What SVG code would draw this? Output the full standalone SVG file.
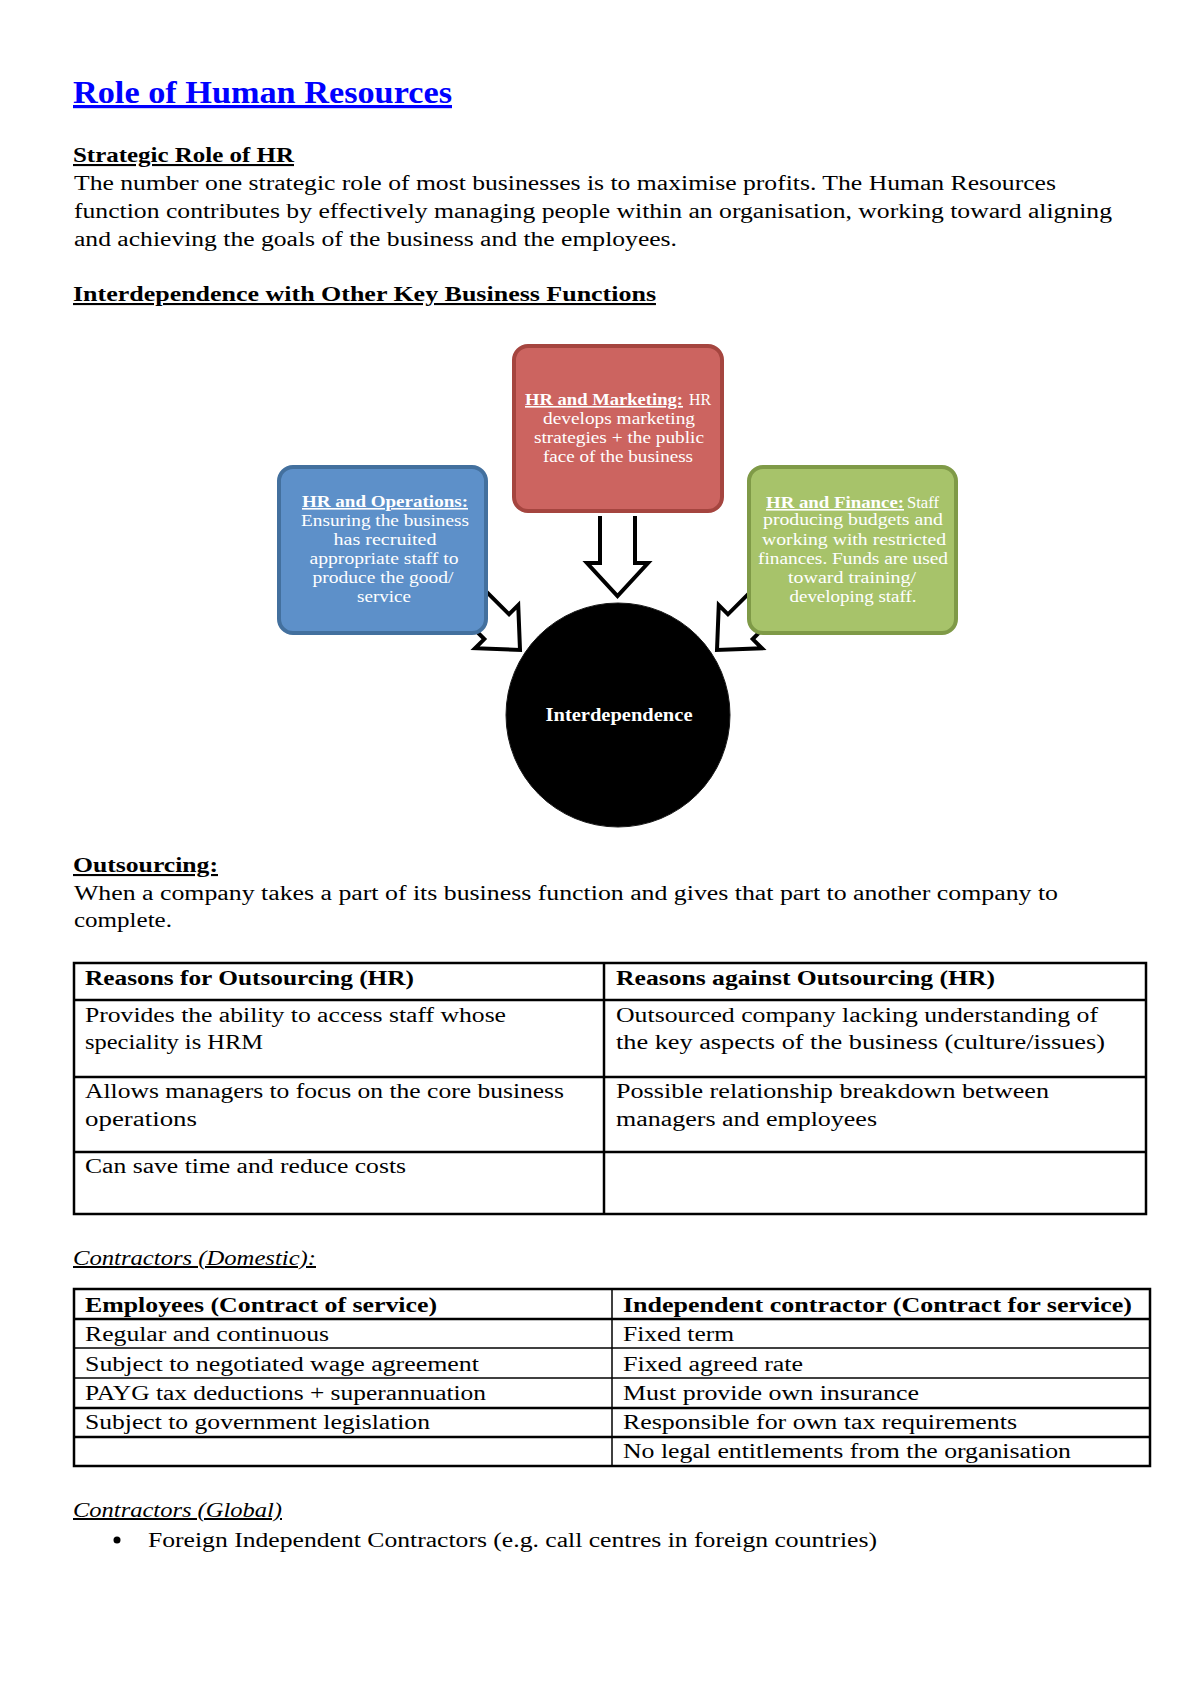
<svg xmlns="http://www.w3.org/2000/svg" width="1200" height="1698" viewBox="0 0 1200 1698">
<style>
  text { font-family: "Liberation Serif", "Times New Roman", serif; fill: #000; }
  .title { font-size: 32px; font-weight: bold; fill: #0000FF; text-decoration: underline; }
  .h { font-size: 21px; font-weight: bold; text-decoration: underline; }
  .hi { font-size: 20px; font-style: italic; text-decoration: underline; }
  .b { font-size: 20px; }
  .bb { font-size: 20px; font-weight: bold; }
  .nt { font-size: 16px; fill: #FFFFFF; }
  .ntb { font-size: 16px; fill: #FFFFFF; font-weight: bold; text-decoration: underline; }
  .mid { text-anchor: middle; }
  .arrow { fill: #FFFFFF; stroke: #000000; stroke-width: 4; stroke-linejoin: miter; }
  .grid { stroke: #000; stroke-width: 2.5; fill: none; }
  .thin { stroke: #000; stroke-width: 1.5; fill: none; }
</style>
<defs>
  <path id="blockArrow" d="M -17.5 -80 L -17.5 -33 L -30.5 -33 L 0 0 L 30.5 -33 L 17.5 -33 L 17.5 -80"/>
</defs>
<rect x="0" y="0" width="1200" height="1698" fill="#FFFFFF"/>

<text class="title" x="73" y="103" textLength="379" lengthAdjust="spacingAndGlyphs">Role of Human Resources</text>

<text class="h" x="73" y="162" textLength="221" lengthAdjust="spacingAndGlyphs">Strategic Role of HR</text>
<text class="b" x="74" y="190" textLength="982" lengthAdjust="spacingAndGlyphs">The number one strategic role of most businesses is to maximise profits. The Human Resources</text>
<text class="b" x="74" y="218" textLength="1038" lengthAdjust="spacingAndGlyphs">function contributes by effectively managing people within an organisation, working toward aligning</text>
<text class="b" x="74" y="246" textLength="603" lengthAdjust="spacingAndGlyphs">and achieving the goals of the business and the employees.</text>

<text class="h" x="73" y="301" textLength="583" lengthAdjust="spacingAndGlyphs">Interdependence with Other Key Business Functions</text>

<g id="connectors">
  <use href="#blockArrow" class="arrow" transform="translate(617.5,596)"/>
  <use href="#blockArrow" class="arrow" transform="translate(520,650) rotate(-45)"/>
  <use href="#blockArrow" class="arrow" transform="translate(717,650) rotate(45)"/>
</g>

<g id="node-marketing">
  <rect x="514" y="346" width="208" height="165" rx="14" fill="#CC6460" stroke="#A5453F" stroke-width="4"/>
  <text class="ntb" x="525" y="405" textLength="158" lengthAdjust="spacingAndGlyphs">HR and Marketing:</text>
  <text class="nt" x="689" y="405" textLength="22" lengthAdjust="spacingAndGlyphs">HR</text>
  <text class="nt mid" x="619" y="424" textLength="152" lengthAdjust="spacingAndGlyphs">develops marketing</text>
  <text class="nt mid" x="619" y="443" textLength="170" lengthAdjust="spacingAndGlyphs">strategies + the public</text>
  <text class="nt mid" x="618" y="462" textLength="150" lengthAdjust="spacingAndGlyphs">face of the business</text>
</g>

<g id="node-operations">
  <rect x="279" y="467" width="207" height="166" rx="14" fill="#5D90C9" stroke="#43709E" stroke-width="4"/>
  <text class="ntb mid" x="385" y="507" textLength="166" lengthAdjust="spacingAndGlyphs">HR and Operations:</text>
  <text class="nt mid" x="385" y="526" textLength="168" lengthAdjust="spacingAndGlyphs">Ensuring the business</text>
  <text class="nt mid" x="385" y="545" textLength="103" lengthAdjust="spacingAndGlyphs">has recruited</text>
  <text class="nt mid" x="384" y="564" textLength="149" lengthAdjust="spacingAndGlyphs">appropriate staff to</text>
  <text class="nt mid" x="383" y="583" textLength="141" lengthAdjust="spacingAndGlyphs">produce the good/</text>
  <text class="nt mid" x="384" y="602" textLength="54" lengthAdjust="spacingAndGlyphs">service</text>
</g>

<g id="node-finance">
  <rect x="749" y="467" width="207" height="166" rx="14" fill="#A7C36A" stroke="#7F9A47" stroke-width="4"/>
  <text class="ntb" x="766" y="508" textLength="138" lengthAdjust="spacingAndGlyphs">HR and Finance:</text>
  <text class="nt" x="907" y="508" textLength="32" lengthAdjust="spacingAndGlyphs">Staff</text>
  <text class="nt mid" x="853" y="525" textLength="180" lengthAdjust="spacingAndGlyphs">producing budgets and</text>
  <text class="nt mid" x="854" y="545" textLength="184" lengthAdjust="spacingAndGlyphs">working with restricted</text>
  <text class="nt mid" x="853" y="564" textLength="190" lengthAdjust="spacingAndGlyphs">finances. Funds are used</text>
  <text class="nt mid" x="852" y="583" textLength="128" lengthAdjust="spacingAndGlyphs">toward training/</text>
  <text class="nt mid" x="853" y="602" textLength="127" lengthAdjust="spacingAndGlyphs">developing staff.</text>
</g>

<g id="node-interdependence">
  <circle cx="618" cy="715" r="112" fill="#000000" stroke="#1a1a1a" stroke-width="1"/>
  <text class="mid" x="619" y="721" font-size="18" font-weight="bold" fill="#FFFFFF" style="fill:#FFFFFF" textLength="147" lengthAdjust="spacingAndGlyphs">Interdependence</text>
</g>

<text class="h" x="73" y="872" textLength="145" lengthAdjust="spacingAndGlyphs">Outsourcing:</text>
<text class="b" x="74" y="900" textLength="984" lengthAdjust="spacingAndGlyphs">When a company takes a part of its business function and gives that part to another company to</text>
<text class="b" x="74" y="927" textLength="98" lengthAdjust="spacingAndGlyphs">complete.</text>

<g id="table-outsourcing">
  <rect class="grid" x="74" y="963" width="1072" height="251"/>
  <line class="grid" x1="604" y1="963" x2="604" y2="1214"/>
  <line class="grid" x1="74" y1="1000" x2="1146" y2="1000"/>
  <line class="grid" x1="74" y1="1077" x2="1146" y2="1077"/>
  <line class="grid" x1="74" y1="1152" x2="1146" y2="1152"/>
  <text class="bb" x="85" y="985" textLength="329" lengthAdjust="spacingAndGlyphs">Reasons for Outsourcing (HR)</text>
  <text class="bb" x="616" y="985" textLength="379" lengthAdjust="spacingAndGlyphs">Reasons against Outsourcing (HR)</text>
  <text class="b" x="85" y="1022" textLength="421" lengthAdjust="spacingAndGlyphs">Provides the ability to access staff whose</text>
  <text class="b" x="85" y="1049" textLength="178" lengthAdjust="spacingAndGlyphs">speciality is HRM</text>
  <text class="b" x="616" y="1022" textLength="482" lengthAdjust="spacingAndGlyphs">Outsourced company lacking understanding of</text>
  <text class="b" x="616" y="1049" textLength="489" lengthAdjust="spacingAndGlyphs">the key aspects of the business (culture/issues)</text>
  <text class="b" x="85" y="1098" textLength="479" lengthAdjust="spacingAndGlyphs">Allows managers to focus on the core business</text>
  <text class="b" x="85" y="1126" textLength="112" lengthAdjust="spacingAndGlyphs">operations</text>
  <text class="b" x="616" y="1098" textLength="433" lengthAdjust="spacingAndGlyphs">Possible relationship breakdown between</text>
  <text class="b" x="616" y="1126" textLength="261" lengthAdjust="spacingAndGlyphs">managers and employees</text>
  <text class="b" x="85" y="1173" textLength="321" lengthAdjust="spacingAndGlyphs">Can save time and reduce costs</text>
</g>

<text class="hi" x="73" y="1265" textLength="243" lengthAdjust="spacingAndGlyphs">Contractors (Domestic):</text>

<g id="table-contractors">
  <rect class="grid" x="74" y="1289" width="1076" height="177"/>
  <line class="thin" x1="612" y1="1289" x2="612" y2="1466"/>
  <line class="grid" x1="74" y1="1319" x2="1150" y2="1319"/>
  <line class="thin" x1="74" y1="1348" x2="1150" y2="1348"/>
  <line class="thin" x1="74" y1="1378" x2="1150" y2="1378"/>
  <line class="grid" x1="74" y1="1408" x2="1150" y2="1408"/>
  <line class="grid" x1="74" y1="1437" x2="1150" y2="1437"/>
  <text class="bb" x="85" y="1312" textLength="352" lengthAdjust="spacingAndGlyphs">Employees (Contract of service)</text>
  <text class="bb" x="623" y="1312" textLength="509" lengthAdjust="spacingAndGlyphs">Independent contractor (Contract for service)</text>
  <text class="b" x="85" y="1341" textLength="244" lengthAdjust="spacingAndGlyphs">Regular and continuous</text>
  <text class="b" x="85" y="1371" textLength="394" lengthAdjust="spacingAndGlyphs">Subject to negotiated wage agreement</text>
  <text class="b" x="85" y="1400" textLength="401" lengthAdjust="spacingAndGlyphs">PAYG tax deductions + superannuation</text>
  <text class="b" x="85" y="1429" textLength="345" lengthAdjust="spacingAndGlyphs">Subject to government legislation</text>
  <text class="b" x="623" y="1341" textLength="111" lengthAdjust="spacingAndGlyphs">Fixed term</text>
  <text class="b" x="623" y="1371" textLength="180" lengthAdjust="spacingAndGlyphs">Fixed agreed rate</text>
  <text class="b" x="623" y="1400" textLength="296" lengthAdjust="spacingAndGlyphs">Must provide own insurance</text>
  <text class="b" x="623" y="1429" textLength="394" lengthAdjust="spacingAndGlyphs">Responsible for own tax requirements</text>
  <text class="b" x="623" y="1458" textLength="448" lengthAdjust="spacingAndGlyphs">No legal entitlements from the organisation</text>
</g>

<text class="hi" x="73" y="1517" textLength="209" lengthAdjust="spacingAndGlyphs">Contractors (Global)</text>
<circle cx="117" cy="1540" r="3.5" fill="#000"/>
<text class="b" x="148" y="1547" textLength="729" lengthAdjust="spacingAndGlyphs">Foreign Independent Contractors (e.g. call centres in foreign countries)</text>
</svg>
